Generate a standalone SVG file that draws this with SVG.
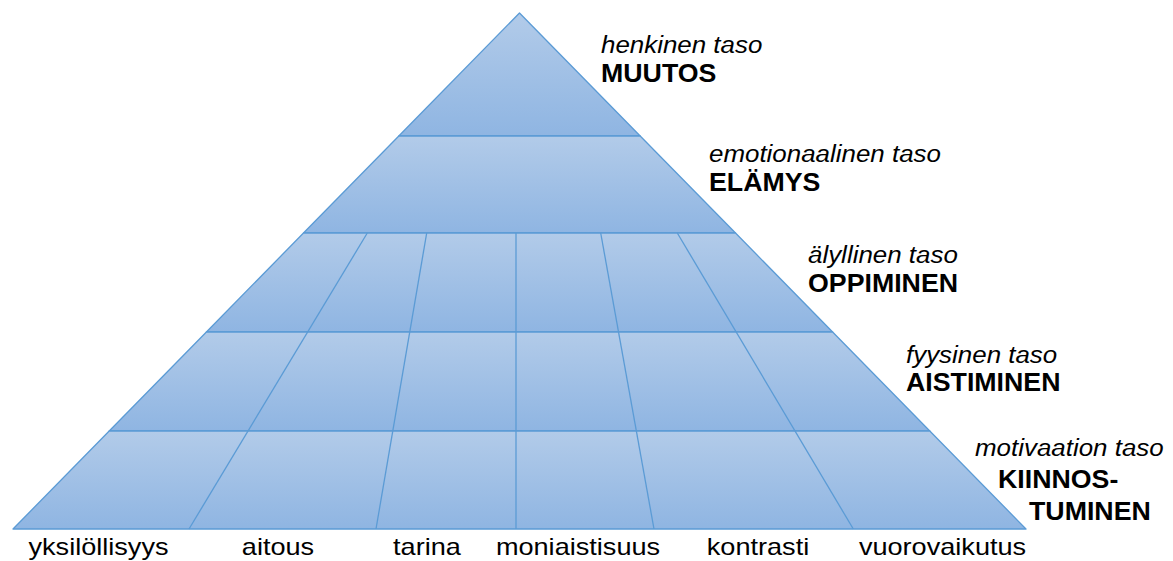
<svg xmlns="http://www.w3.org/2000/svg" width="1173" height="561" viewBox="0 0 1173 561">
  <defs>
    <linearGradient id="rowFill" x1="0" y1="0" x2="0" y2="1">
      <stop offset="0" stop-color="#b2cbe9"/>
      <stop offset="1" stop-color="#8fb5e2"/>
    </linearGradient>
    <style>
      .row { fill: url(#rowFill); stroke: #5b9bd5; stroke-width: 1.3; stroke-linejoin: round; }
      .div { stroke: #5b9bd5; stroke-width: 1.3; fill: none; }
      .lvl { font-family: "Liberation Sans", Arial, sans-serif; font-size: 24px; font-style: italic; fill: #000; }
      .key { font-family: "Liberation Sans", Arial, sans-serif; font-size: 25px; font-weight: bold; fill: #000; }
      .base { font-family: "Liberation Sans", Arial, sans-serif; font-size: 24px; fill: #000; text-anchor: middle; }
    </style>
  </defs>

  <rect width="1173" height="561" fill="#ffffff"/>

  <!-- pyramid levels, top to bottom -->
  <g id="level-muutos">
    <polygon class="row" points="519.5,13 640.2,136 398.8,136"/>
  </g>
  <g id="level-elamys">
    <polygon class="row" points="398.8,136 640.2,136 735.5,233 303.5,233"/>
  </g>
  <g id="level-oppiminen">
    <polygon class="row" points="303.5,233 735.5,233 832.6,332 206.4,332"/>
  </g>
  <g id="level-aistiminen">
    <polygon class="row" points="206.4,332 832.6,332 929.8,431 109.2,431"/>
  </g>
  <g id="level-kiinnostuminen">
    <polygon class="row" points="109.2,431 929.8,431 1026,529 13,529"/>
  </g>

  <!-- column dividers through the three lowest levels -->
  <g id="dividers">
    <line class="div" x1="367.3" y1="233" x2="189" y2="529"/>
    <line class="div" x1="426.7" y1="233" x2="376" y2="529"/>
    <line class="div" x1="516" y1="233" x2="516" y2="529"/>
    <line class="div" x1="600.7" y1="233" x2="654" y2="529"/>
    <line class="div" x1="677.3" y1="233" x2="853.3" y2="529"/>
  </g>

  <!-- level captions -->
  <g id="caption-muutos">
    <text class="lvl" transform="translate(601 53) scale(1.08 1)">henkinen taso</text>
    <text class="key" transform="translate(601 82) scale(1.07 1)">MUUTOS</text>
  </g>
  <g id="caption-elamys">
    <text class="lvl" transform="translate(709 162) scale(1.08 1)">emotionaalinen taso</text>
    <text class="key" transform="translate(709 191) scale(1.07 1)">ELÄMYS</text>
  </g>
  <g id="caption-oppiminen">
    <text class="lvl" transform="translate(808 263) scale(1.08 1)">älyllinen taso</text>
    <text class="key" transform="translate(808 292) scale(1.07 1)">OPPIMINEN</text>
  </g>
  <g id="caption-aistiminen">
    <text class="lvl" transform="translate(906 363) scale(1.08 1)">fyysinen taso</text>
    <text class="key" transform="translate(906 391) scale(1.07 1)">AISTIMINEN</text>
  </g>
  <g id="caption-kiinnostuminen">
    <text class="lvl" transform="translate(975 456) scale(1.08 1)">motivaation taso</text>
    <text class="key" transform="translate(998 488) scale(1.07 1)">KIINNOS-</text>
    <text class="key" transform="translate(1029 520) scale(1.07 1)">TUMINEN</text>
  </g>

  <!-- column labels under the base -->
  <g id="column-labels">
    <text class="base" transform="translate(98.5 555) scale(1.13 1)">yksilöllisyys</text>
    <text class="base" transform="translate(278 555) scale(1.13 1)">aitous</text>
    <text class="base" transform="translate(427 555) scale(1.13 1)">tarina</text>
    <text class="base" transform="translate(578 555) scale(1.13 1)">moniaistisuus</text>
    <text class="base" transform="translate(758 555) scale(1.13 1)">kontrasti</text>
    <text class="base" transform="translate(942.5 555) scale(1.13 1)">vuorovaikutus</text>
  </g>
</svg>
